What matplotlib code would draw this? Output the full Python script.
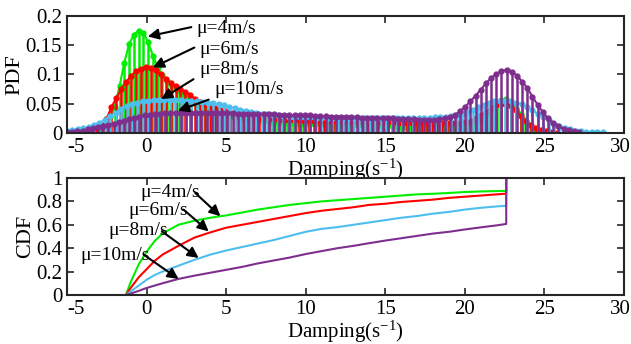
import numpy as np
import matplotlib.pyplot as plt
import matplotlib.transforms as mtransforms

plt.rcParams['font.family'] = ['Liberation Serif', 'DejaVu Serif']
plt.rcParams['font.size'] = 14.5
plt.rcParams['axes.unicode_minus'] = False
plt.rcParams['mathtext.fontset'] = 'custom'
plt.rcParams['mathtext.rm'] = 'Liberation Serif'
plt.rcParams['mathtext.it'] = 'Liberation Serif:italic'

# PDF samples (each series on its own grid of 100 points)
x_pdf_4 = np.linspace(-5, 24.7, 100)
pdf_4 = [0, 0, 0, 0, 0.001, 0.002, 0.004, 0.008, 0.014, 0.027,
         0.045, 0.080, 0.120, 0.152, 0.168, 0.175, 0.171, 0.155, 0.132, 0.113,
         0.099, 0.089, 0.081, 0.073, 0.066, 0.060, 0.055, 0.050, 0.045, 0.041,
         0.038, 0.035, 0.033, 0.031, 0.029, 0.027, 0.026, 0.025, 0.023, 0.022,
         0.021, 0.020, 0.020, 0.019, 0.018, 0.018, 0.017, 0.017, 0.016, 0.016,
         0.016, 0.015, 0.015, 0.015, 0.014, 0.014, 0.014, 0.014, 0.013, 0.013,
         0.013, 0.013, 0.013, 0.012, 0.012, 0.012, 0.012, 0.012, 0.012, 0.012,
         0.011, 0.011, 0.011, 0.011, 0.011, 0.011, 0.011, 0.011, 0.011, 0.011,
         0.011, 0.011, 0.011, 0.012, 0.013, 0.016, 0.020, 0.026, 0.034, 0.043,
         0.051, 0.056, 0.058, 0.053, 0.043, 0.033, 0.022, 0.013, 0.006, 0.001]

x_pdf_6 = np.linspace(-5, 25.69, 100)
pdf_6 = [0, 0, 0, 0.001, 0.001, 0.003, 0.006, 0.012, 0.024, 0.044,
         0.060, 0.075, 0.087, 0.098, 0.106, 0.110, 0.112, 0.111, 0.107, 0.100,
         0.093, 0.086, 0.080, 0.075, 0.070, 0.065, 0.058, 0.053, 0.049, 0.046,
         0.042, 0.040, 0.037, 0.035, 0.033, 0.031, 0.029, 0.028, 0.027, 0.026,
         0.025, 0.024, 0.024, 0.023, 0.023, 0.022, 0.022, 0.022, 0.021, 0.021,
         0.021, 0.020, 0.020, 0.020, 0.020, 0.020, 0.019, 0.019, 0.019, 0.019,
         0.019, 0.018, 0.018, 0.018, 0.018, 0.018, 0.018, 0.017, 0.017, 0.017,
         0.017, 0.017, 0.017, 0.017, 0.017, 0.017, 0.017, 0.017, 0.017, 0.017,
         0.018, 0.019, 0.021, 0.025, 0.030, 0.036, 0.042, 0.047, 0.050, 0.050,
         0.046, 0.039, 0.029, 0.020, 0.013, 0.008, 0.005, 0.003, 0.001, 0]

x_pdf_8 = np.linspace(-5, 28.66, 100)
pdf_8 = [0.003, 0.005, 0.007, 0.008, 0.010, 0.013, 0.017, 0.023, 0.029, 0.035,
         0.041, 0.046, 0.049, 0.052, 0.054, 0.055, 0.056, 0.057, 0.057, 0.057,
         0.056, 0.056, 0.055, 0.055, 0.054, 0.053, 0.052, 0.051, 0.049, 0.047,
         0.045, 0.042, 0.040, 0.038, 0.036, 0.035, 0.033, 0.032, 0.031, 0.030,
         0.029, 0.028, 0.028, 0.027, 0.027, 0.027, 0.026, 0.026, 0.026, 0.026,
         0.026, 0.026, 0.025, 0.025, 0.025, 0.025, 0.025, 0.025, 0.025, 0.025,
         0.025, 0.025, 0.025, 0.025, 0.025, 0.025, 0.026, 0.026, 0.027, 0.027,
         0.028, 0.029, 0.031, 0.033, 0.036, 0.040, 0.044, 0.048, 0.051, 0.054,
         0.055, 0.055, 0.054, 0.052, 0.049, 0.044, 0.039, 0.033, 0.027, 0.022,
         0.016, 0.012, 0.009, 0.006, 0.004, 0.003, 0.002, 0.001, 0.001, 0.001]

x_pdf_10 = np.linspace(-5, 27.175, 100)
pdf_10 = [0.001, 0.002, 0.003, 0.004, 0.006, 0.008, 0.010, 0.012, 0.014, 0.016,
          0.019, 0.021, 0.024, 0.026, 0.028, 0.030, 0.031, 0.032, 0.033, 0.034,
          0.034, 0.035, 0.035, 0.035, 0.035, 0.035, 0.035, 0.035, 0.034, 0.034,
          0.034, 0.034, 0.034, 0.033, 0.033, 0.033, 0.033, 0.032, 0.032, 0.032,
          0.032, 0.031, 0.031, 0.031, 0.030, 0.030, 0.030, 0.030, 0.029, 0.029,
          0.029, 0.028, 0.028, 0.028, 0.027, 0.027, 0.027, 0.026, 0.026, 0.026,
          0.025, 0.025, 0.025, 0.025, 0.024, 0.024, 0.024, 0.024, 0.023, 0.023,
          0.023, 0.023, 0.024, 0.025, 0.027, 0.031, 0.037, 0.045, 0.054, 0.064,
          0.074, 0.085, 0.094, 0.101, 0.106, 0.108, 0.105, 0.098, 0.088, 0.077,
          0.062, 0.048, 0.036, 0.025, 0.017, 0.012, 0.007, 0.005, 0.003, 0.002]

# CDF curves
x_cdf = [-1.3, -1.0, -0.5, 0, 0.5, 1, 2, 3, 4, 5, 6, 7, 8, 9, 10, 11, 12,
         13, 14, 15, 16, 17, 18, 19, 20, 21, 22, 22.6, 22.6]
cdf_4 = [0, 0.11, 0.26, 0.37, 0.46, 0.525, 0.60, 0.635, 0.66, 0.68, 0.705, 0.73,
         0.75, 0.77, 0.785, 0.80, 0.81, 0.82, 0.83, 0.84, 0.85, 0.86, 0.865,
         0.872, 0.88, 0.885, 0.888, 0.89, 1.0]
cdf_6 = [0, 0.06, 0.15, 0.22, 0.29, 0.345, 0.42, 0.49, 0.535, 0.575, 0.60, 0.625,
         0.65, 0.675, 0.70, 0.72, 0.735, 0.75, 0.77, 0.78, 0.795, 0.805, 0.815,
         0.83, 0.84, 0.85, 0.86, 0.866, 1.0]
cdf_8 = [0, 0.03, 0.08, 0.13, 0.17, 0.20, 0.25, 0.30, 0.345, 0.38, 0.41, 0.44,
         0.47, 0.505, 0.54, 0.565, 0.58, 0.60, 0.62, 0.64, 0.66, 0.675, 0.695,
         0.71, 0.73, 0.745, 0.757, 0.763, 1.0]
cdf_10 = [0, 0.012, 0.035, 0.06, 0.08, 0.10, 0.137, 0.165, 0.19, 0.215, 0.24,
          0.27, 0.295, 0.32, 0.35, 0.375, 0.40, 0.42, 0.443, 0.465, 0.485, 0.505,
          0.525, 0.54, 0.56, 0.578, 0.595, 0.607, 1.0]

labels = ['μ=4m/s', 'μ=6m/s', 'μ=8m/s', 'μ=10m/s']
colors = ['#00ee00', '#ff0000', '#4dbeee', '#7e2f8e']

x_ticks = [-5, 0, 5, 10, 15, 20, 25, 30]
pdf_ticks = [0, 0.05, 0.1, 0.15, 0.2]
pdf_ticklabels = ['0', '0.05', '0.1', '0.15', '0.2']
cdf_ticks = [0, 0.2, 0.4, 0.6, 0.8, 1]
cdf_ticklabels = ['0', '0.2', '0.4', '0.6', '0.8', '1']

# annotation positions: text (x, y), arrow tail, arrow head
pdf_notes = [((3.15, 0.178), (2.81, 0.181), (0.08, 0.165)),
             ((3.3, 0.142), (3.0, 0.146), (0.4, 0.112)),
             ((3.3, 0.108), (2.95, 0.092), (0.92, 0.058)),
             ((4.25, 0.074), (3.9, 0.057), (1.97, 0.038))]
cdf_notes = [((-0.4, 0.876), (3.06, 0.872), (4.64, 0.673)),
             ((-1.16, 0.722), (2.33, 0.729), (3.9, 0.544)),
             ((-2.42, 0.551), (0.96, 0.544), (3.27, 0.316)),
             ((-4.18, 0.338), (-0.19, 0.345), (2.01, 0.137))]

fig = plt.figure(figsize=(6.31, 3.44), dpi=100)
ax1 = fig.add_axes([0.1062, 0.6134, 0.8827, 0.3401])
ax2 = fig.add_axes([0.1062, 0.1425, 0.8827, 0.3401])

pdf_x = [x_pdf_4, x_pdf_6, x_pdf_8, x_pdf_10]
pdf_y = [pdf_4, pdf_6, pdf_8, pdf_10]
for xs, ys, c in zip(pdf_x, pdf_y, colors):
    ax1.vlines(xs, 0, ys, color=c, lw=1.8)
    ax1.plot(xs, ys, '-o', color=c, lw=1.5, ms=3.5)

for ys, c in zip([cdf_4, cdf_6, cdf_8, cdf_10], colors):
    ax2.plot(x_cdf, ys, color=c, lw=1.5)

for ax, notes in [(ax1, pdf_notes), (ax2, cdf_notes)]:
    for lab, (txt, tail, head) in zip(labels, notes):
        ax.annotate('', xy=head, xytext=tail,
                    arrowprops=dict(arrowstyle='-|>', color='k', lw=1.5,
                                    mutation_scale=16, shrinkA=0, shrinkB=0))
        ax.text(txt[0], txt[1], lab, ha='left', va='center', fontsize=14)

ax1.set_ylim(0, 0.2)
ax1.set_yticks(pdf_ticks)
ax1.set_yticklabels(pdf_ticklabels)
ax1.set_ylabel('PDF', labelpad=1, fontsize=16)
ax2.set_ylim(0, 1)
ax2.set_yticks(cdf_ticks)
ax2.set_yticklabels(cdf_ticklabels)
ax2.set_ylabel('CDF', labelpad=1, fontsize=16)

shift_left = mtransforms.ScaledTranslation(-4 / 100, 0, fig.dpi_scale_trans)
for ax in (ax1, ax2):
    ax.set_xlim(-5, 30)
    ax.set_xticks(x_ticks)
    ax.set_xlabel('Damping(s$^{\\mathrm{-1}}$)', labelpad=0, fontsize=15)
    ax.tick_params(direction='in', top=True, right=True, length=5, width=1.2,
                   color='#262626', pad=3.5, labelsize=15)
    for s in ax.spines.values():
        s.set_linewidth(1.5)
        s.set_color('#262626')
    xlabels = ax.get_xticklabels()
    xlabels[0].set_ha('left')
    xlabels[-1].set_transform(xlabels[-1].get_transform() + shift_left)

fig.savefig('out.png', dpi=100)
